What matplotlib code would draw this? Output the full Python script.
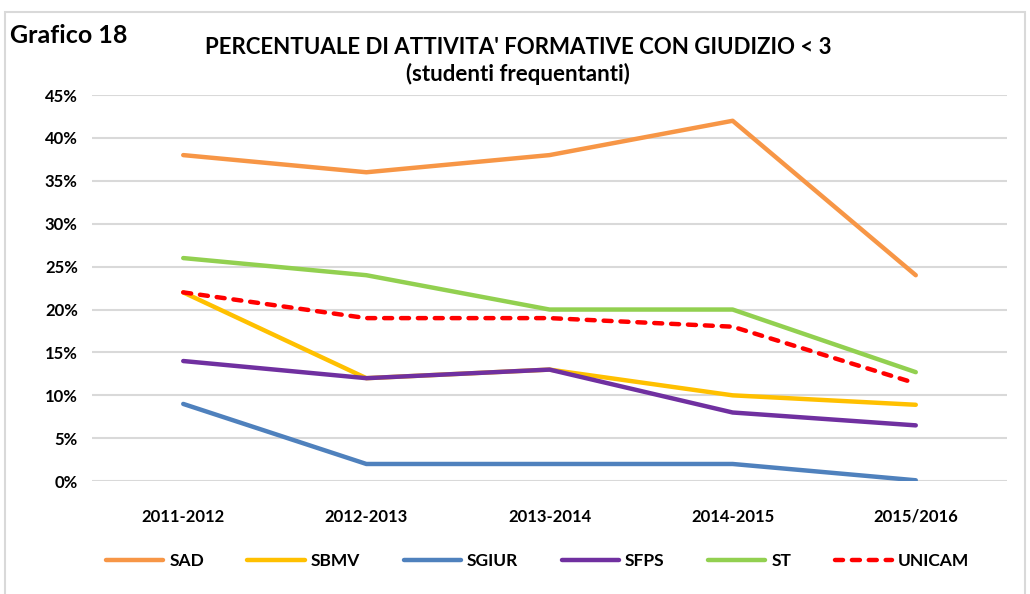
import matplotlib.pyplot as plt
from matplotlib.patches import Rectangle
from matplotlib.ticker import FuncFormatter

years = ['2011-2012', '2012-2013', '2013-2014', '2014-2015', '2015/2016']
sad = [38, 36, 38, 42, 24]
sbmv = [22, 12, 13, 10, 8.9]
sgiur = [9, 2, 2, 2, 0.1]
sfps = [14, 12, 13, 8, 6.5]
st = [26, 24, 20, 20, 12.7]
unicam = [22, 19, 19, 18, 11.4]

plt.rcParams['font.family'] = ['Lato', 'DejaVu Sans']
plt.rcParams['font.weight'] = 'bold'

fig = plt.figure(figsize=(10.3, 5.94), dpi=100)
ax = fig.add_axes([0.089, 0.19, 0.889, 0.65])

x = range(len(years))
lw = 3.2
ax.plot(x, sad, color='#F79646', lw=lw, label='SAD', solid_capstyle='round')
ax.plot(x, sbmv, color='#FFC000', lw=lw, label='SBMV', solid_capstyle='round')
ax.plot(x, sgiur, color='#4F81BD', lw=lw, label='SGIUR', solid_capstyle='round')
ax.plot(x, sfps, color='#7030A0', lw=lw, label='SFPS', solid_capstyle='round')
ax.plot(x, st, color='#92D050', lw=lw, label='ST', solid_capstyle='round')
ax.plot(x, unicam, color='#FF0000', lw=lw, ls=(0, (1.8, 2.0)), label='UNICAM',
        dash_capstyle='round')

ax.set_xlim(-0.5, 4.5)
ax.set_ylim(0, 45)
ax.set_yticks(range(0, 46, 5))
ax.yaxis.set_major_formatter(FuncFormatter(lambda v, p: f'{v:.0f}%'))
ax.set_xticks(list(x))
ax.set_xticklabels(years)
ax.grid(axis='y', color='#D9D9D9', lw=1.5)
ax.set_axisbelow(True)
for s in ax.spines.values():
    s.set_visible(False)
ax.tick_params(length=0, labelsize=12, pad=20)
ax.tick_params(axis='y', pad=10)
for lab in ax.get_xticklabels() + ax.get_yticklabels():
    lab.set_fontweight('bold')

fig.text(0.503, 0.897, "PERCENTUALE DI ATTIVITA' FORMATIVE CON GIUDIZIO < 3\n(studenti frequentanti)",
         ha='center', va='center', fontsize=16, fontweight='bold', linespacing=1.3)
fig.text(0.01, 0.941, 'Grafico 18', ha='left', va='center', fontsize=18, fontweight='bold')

ax.legend(loc='center', bbox_to_anchor=(0.487, -0.207), ncol=6, frameon=False,
          fontsize=12.5, handlelength=3.3, columnspacing=2.5, handletextpad=0.35)

fig.patches.append(Rectangle((0.005, -0.01), 0.99, 0.99, transform=fig.transFigure,
                             fill=False, edgecolor='#D9D9D9', lw=1.5))

fig.savefig('out.png', dpi=100)
